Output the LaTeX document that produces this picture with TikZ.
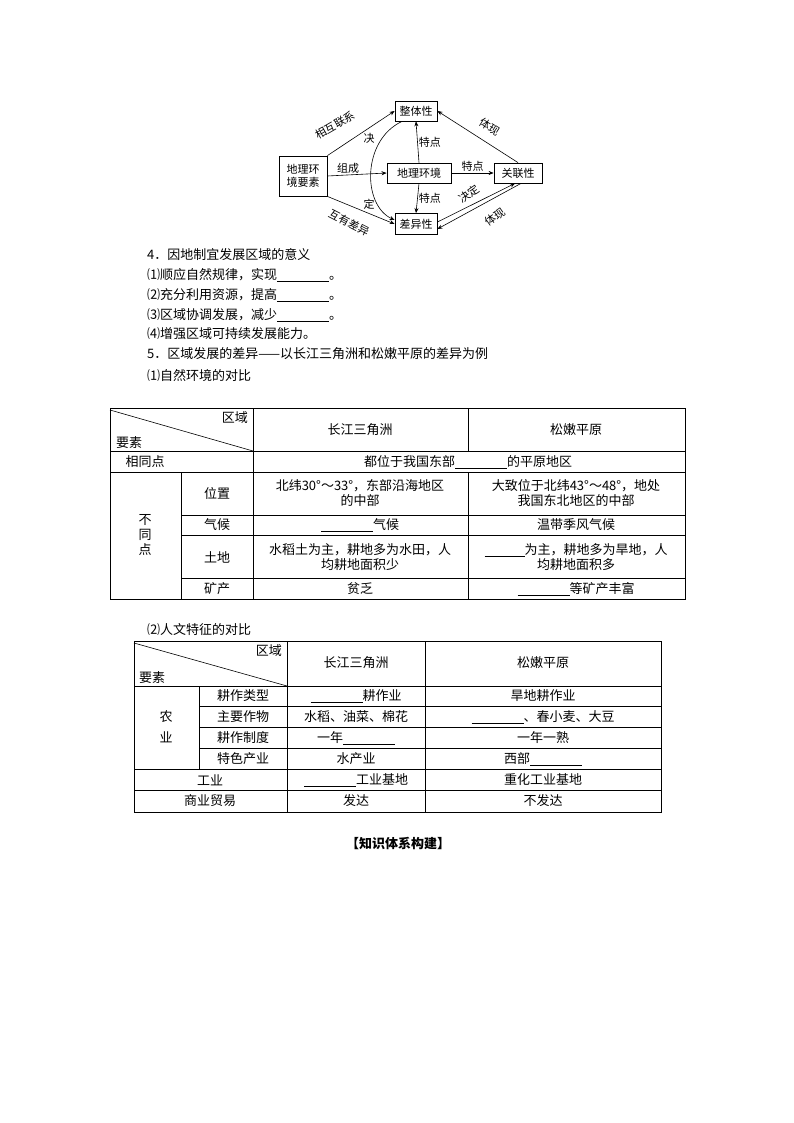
\documentclass[tikz,border=0pt]{standalone}
\usepackage{fontspec}
\setmainfont{Noto Sans CJK SC}
\usetikzlibrary{arrows.meta,calc}
\newcommand{\blk}[1]{\rule[-2pt]{#1pt}{0.6pt}}
\begin{document}
\begin{tikzpicture}[x=1pt,y=-1pt,
  bx/.style={draw,thick,inner sep=0pt,font=\fontsize{11}{13}\selectfont},
  lb/.style={font=\fontsize{11}{12}\selectfont,inner sep=1pt},
  ar/.style={-{Stealth[length=5pt,width=4pt]},semithick},
  tx/.style={anchor=west,font=\fontsize{13}{15}\selectfont,inner sep=0pt},
  tc/.style={font=\fontsize{13}{15}\selectfont,inner sep=0pt,align=center},
  tl/.style={line width=0.6pt}]
\useasboundingbox (0,0) rectangle (794,1123);
% ---- diagram
\node[bx,minimum width=48,minimum height=40,align=center] (ys) at (303,176) {地理环\\境要素};
\node[bx,minimum width=42,minimum height=20] (zt) at (416,111) {整体性};
\node[bx,minimum width=64,minimum height=20] (hj) at (419,173) {地理环境};
\node[bx,minimum width=48,minimum height=20] (gl) at (518,173) {关联性};
\node[bx,minimum width=42,minimum height=21] (cy) at (416,224) {差异性};
\draw[ar] (ys.north east) -- (zt.west);
\draw[ar] (ys.east) -- node[lb,above,pos=0.35]{组成} (hj.west);
\draw[ar] (ys.south east) -- (cy.west);
\node[lb,rotate=30] (l1) at (335,125) {相互联系};
\node[lb,rotate=-27] (l2) at (349,223) {互有差异};
\draw[ar] (hj.north) -- node[lb,right]{特点} (zt.south);
\draw[ar] (hj.south) -- node[lb,right]{特点} (cy.south|-cy.north);
\draw[ar] (hj.east) -- node[lb,above]{特点} (gl.west);
\draw[ar] (gl.north) -- (zt.east);
\node[lb,rotate=-32] (l5) at (490,127) {体现};
\draw[ar] ([yshift=2pt]cy.east) -- ([xshift=-3pt]gl.south);
\draw[ar] ([xshift=3pt]gl.south) -- ([yshift=-5pt]cy.east);
\node[lb,rotate=35] (l3) at (469,194) {决定};
\node[lb,rotate=35] (l4) at (495,217) {体现};
\draw[ar] ([xshift=-14pt]zt.south) .. controls (362,140) and (362,205) .. ([yshift=4pt]cy.west);
\node[lb] (j) at (369,138) {决};
\node[lb] (d) at (369,204) {定};
% ---- text lines
\node[tx] (t4) at (147,255) {4．因地制宜发展区域的意义};
\node[tx] (t41) at (147,275) {⑴顺应自然规律，实现\blk{52}。};
\node[tx] (t42) at (147,295) {⑵充分利用资源，提高\blk{52}。};
\node[tx] (t43) at (147,315) {⑶区域协调发展，减少\blk{52}。};
\node[tx] (t44) at (147,334) {⑷增强区域可持续发展能力。};
\node[tx] (t5) at (147,354) {5．区域发展的差异——以长江三角洲和松嫩平原的差异为例};
\node[tx] (t51) at (147,376) {⑴自然环境的对比};
% ---- table 1
\draw[tl] (110,408) rectangle (685,599);
\foreach \y in {451,472} \draw[tl] (110,\y) -- (685,\y);
\foreach \y in {515,535,578} \draw[tl] (181,\y) -- (685,\y);
\draw[tl] (181,472) -- (181,599);
\draw[tl] (253,408) -- (253,599);
\draw[tl] (468,408) -- (468,451);
\draw[tl] (468,472) -- (468,599);
\draw[tl] (110,410) -- (253,451);
\node[tc,anchor=north east] (a1) at (248,411) {区域};
\node[tc,anchor=south west] (a2) at (116,449) {要素};
\node[tc] (a3) at (360,430) {长江三角洲};
\node[tc] (a4) at (576,430) {松嫩平原};
\node[tc] (a5) at (145,462) {相同点};
\node[tc] (a6) at (468,462) {都位于我国东部\blk{52}的平原地区};
\node[tc] (a7) at (145,535) {不\\同\\点};
\node[tc] (a8) at (217,493) {位置};
\node[tc] (a9) at (217,525) {气候};
\node[tc] (a10) at (217,557) {土地};
\node[tc] (a11) at (217,589) {矿产};
\node[tc] (b1) at (360,493) {北纬30°～33°，东部沿海地区\\的中部};
\node[tc] (b2) at (576,493) {大致位于北纬43°～48°，地处\\我国东北地区的中部};
\node[tc] (b3) at (360,525) {\blk{52}气候};
\node[tc] (b4) at (576,525) {温带季风气候};
\node[tc] (b5) at (360,557) {水稻土为主，耕地多为水田，人\\均耕地面积少};
\node[tc] (b6) at (576,557) {\blk{40}为主，耕地多为旱地，人\\均耕地面积多};
\node[tc] (b7) at (360,589) {贫乏};
\node[tc] (b8) at (576,589) {\blk{52}等矿产丰富};
% ---- table 2
\node[tx] (t52) at (147,630) {⑵人文特征的对比};
\draw[tl] (134,641) rectangle (661,812);
\draw[tl] (134,686) -- (661,686);
\foreach \y in {706,727,748} \draw[tl] (199,\y) -- (661,\y);
\foreach \y in {769,790} \draw[tl] (134,\y) -- (661,\y);
\draw[tl] (199,686) -- (199,769);
\draw[tl] (287,641) -- (287,812);
\draw[tl] (425,641) -- (425,812);
\draw[tl] (134,643) -- (287,686);
\node[tc,anchor=north east] (c1) at (282,644) {区域};
\node[tc,anchor=south west] (c2) at (139,684) {要素};
\node[tc] (c3) at (356,663) {长江三角洲};
\node[tc] (c4) at (543,663) {松嫩平原};
\node[tc] (c5) at (166,727) {农\\[6pt]业};
\node[tc] (d1) at (243,696) {耕作类型};
\node[tc] (d2) at (243,717) {主要作物};
\node[tc] (d3) at (243,738) {耕作制度};
\node[tc] (d4) at (243,759) {特色产业};
\node[tc] (d5) at (210,780) {工业};
\node[tc] (d6) at (210,801) {商业贸易};
\node[tc] (e1) at (356,696) {\blk{52}耕作业};
\node[tc] (e2) at (356,717) {水稻、油菜、棉花};
\node[tc] (e3) at (356,738) {一年\blk{52}};
\node[tc] (e4) at (356,759) {水产业};
\node[tc] (e5) at (356,780) {\blk{52}工业基地};
\node[tc] (e6) at (356,801) {发达};
\node[tc] (f1) at (543,696) {旱地耕作业};
\node[tc] (f2) at (543,717) {\blk{52}、春小麦、大豆};
\node[tc] (f3) at (543,738) {一年一熟};
\node[tc] (f4) at (543,759) {西部\blk{52}};
\node[tc] (f5) at (543,780) {重化工业基地};
\node[tc] (f6) at (543,801) {不发达};
\node[tc,font=\bfseries\fontsize{13}{15}\selectfont] (ti) at (398,843) {【知识体系构建】};
\end{tikzpicture}
\end{document}
